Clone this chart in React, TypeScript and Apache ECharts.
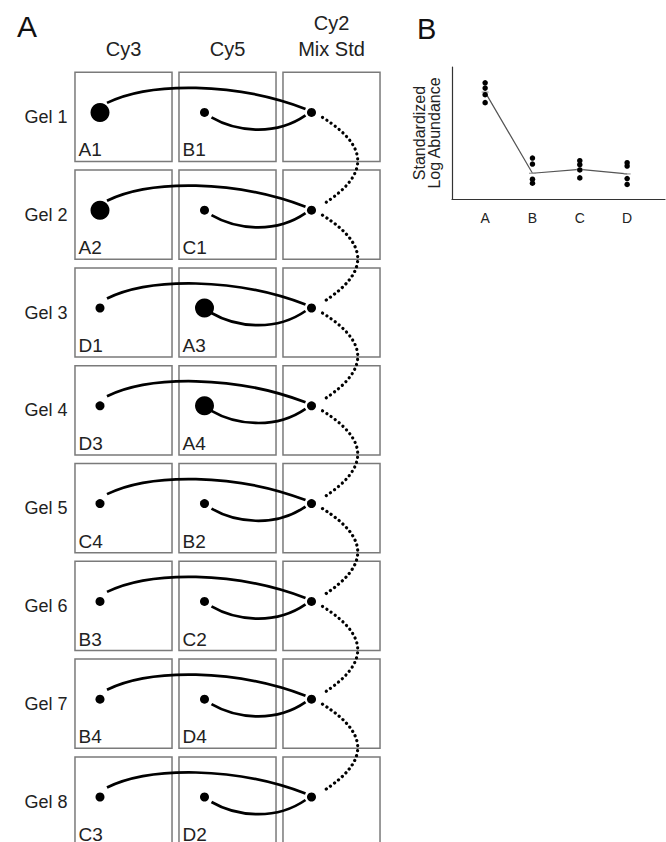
import React, { useEffect, useRef } from "react";
import * as echarts from "echarts";

// ---------- Panel A data ----------
const gels = ["Gel 1", "Gel 2", "Gel 3", "Gel 4", "Gel 5", "Gel 6", "Gel 7", "Gel 8"];
const channels = ["Cy3", "Cy5", "Cy2\nMix Std"];
const cy3Samples = ["A1", "A2", "D1", "D3", "C4", "B3", "B4", "C3"];
const cy5Samples = ["B1", "C1", "A3", "A4", "B2", "C2", "D4", "D2"];
const highGroup = "A";

// ---------- Panel B data ----------
const groups = ["A", "B", "C", "D"];
const abundA = [8.8, 8.4, 7.9, 7.3];
const abundB = [3.1, 2.65, 1.5, 1.2];
const abundC = [2.9, 2.6, 2.2, 1.6];
const abundD = [2.75, 2.5, 1.55, 1.1];
const groupMeans = [8.1, 1.95, 2.25, 1.9];

const FONT = "'Liberation Sans', Arial, Helvetica, sans-serif";

export default function App() {
  const ref = useRef<HTMLDivElement>(null);

  useEffect(() => {
    if (!ref.current) return;
    const chart = echarts.init(ref.current, null, { renderer: "svg" });

    const cells: { col: number; row: number; label: string; big: boolean }[] = [];
    gels.forEach((_, i) => {
      cells.push({ col: 0, row: i, label: cy3Samples[i], big: cy3Samples[i].startsWith(highGroup) });
      cells.push({ col: 1, row: i, label: cy5Samples[i], big: cy5Samples[i].startsWith(highGroup) });
      cells.push({ col: 2, row: i, label: "", big: false });
    });

    const links: { kind: string; c0: number; r0: number; c1: number; r1: number }[] = [];
    gels.forEach((_, i) => {
      links.push({ kind: "upper", c0: 0, r0: i, c1: 2, r1: i });
      links.push({ kind: "lower", c0: 1, r0: i, c1: 2, r1: i });
      if (i < gels.length - 1) links.push({ kind: "chain", c0: 2, r0: i, c1: 2, r1: i + 1 });
    });

    const dotOffsetX = [-23.5, -23, -20];
    const dotOffsetY = -4.5;
    const dotPos = (api: any, col: number, row: number) => {
      const c = api.coord([col, row]);
      return [c[0] + dotOffsetX[col], c[1] + dotOffsetY];
    };

    const replicateSets = [abundA, abundB, abundC, abundD];
    const replicatePoints: number[][] = [];
    replicateSets.forEach((set, gi) => set.forEach((v) => replicatePoints.push([gi + 1, v])));

    // row pitch ~97.8px: grid spans 68..842 (774px) -> 7.914 rows visible from -0.5
    const rowMin = -0.5;
    const rowMax = 7.414;

    const option: any = {
      animation: false,
      backgroundColor: "#fff",
      textStyle: { fontFamily: FONT },
      title: [
        { text: "A", left: 12, top: 6, textStyle: { fontSize: 30, fontWeight: "normal", color: "#111", fontFamily: FONT } },
        { text: "B", left: 412, top: 9, textStyle: { fontSize: 29, fontWeight: "normal", color: "#111", fontFamily: FONT } },
      ],
      grid: [
        { left: 71.5, top: 68, width: 312, bottom: 0 },
        { left: 452, top: 67, width: 213, height: 132 },
      ],
      xAxis: [
        {
          gridIndex: 0,
          type: "category",
          data: channels,
          position: "top",
          axisLine: { show: false },
          axisTick: { show: false },
          splitLine: { show: false },
          axisLabel: { fontSize: 20, lineHeight: 26, color: "#222", margin: 6, fontFamily: FONT, interval: 0 },
        },
        {
          gridIndex: 1,
          type: "value",
          min: 0.3,
          max: 4.8,
          axisLine: { show: true, lineStyle: { color: "#333", width: 1.2 } },
          axisTick: { show: false },
          splitLine: { show: false },
          axisLabel: {
            customValues: [1, 2, 3, 4],
            formatter: (v: number) => groups[Math.round(v) - 1] ?? "",
            fontSize: 14,
            color: "#222",
            margin: 12,
            fontFamily: FONT,
          },
        },
      ],
      yAxis: [
        {
          gridIndex: 0,
          type: "value",
          inverse: true,
          min: rowMin,
          max: rowMax,
          axisLine: { show: false },
          axisTick: { show: false },
          splitLine: { show: false },
          axisLabel: {
            customValues: gels.map((_, i) => i),
            formatter: (v: number) => gels[Math.round(v)] ?? "",
            fontSize: 18,
            color: "#222",
            margin: 4,
            fontFamily: FONT,
          },
        },
        {
          gridIndex: 1,
          type: "value",
          min: 0,
          max: 10,
          axisLine: { show: true, lineStyle: { color: "#333", width: 1.2 } },
          axisTick: { show: false },
          axisLabel: { show: false },
          splitLine: { show: false },
          name: "Standardized\nLog Abundance",
          nameLocation: "middle",
          nameRotate: 90,
          nameGap: 10,
          nameTextStyle: { fontSize: 16, lineHeight: 15, color: "#222", fontFamily: FONT },
        },
      ],
      series: [
        {
          type: "custom",
          xAxisIndex: 0,
          yAxisIndex: 0,
          z: 2,
          clip: false,
          data: cells.map((c) => [c.col, c.row]),
          renderItem: (params: any, api: any) => {
            const cell = cells[params.dataIndex];
            const c = api.coord([cell.col, cell.row]);
            const sz = api.size([1, 1]);
            const w = sz[0] * 0.933;
            const h = sz[1] * 0.912;
            const x0 = c[0] - w / 2;
            const y0 = c[1] - h / 2;
            return {
              type: "group",
              children: [
                {
                  type: "rect",
                  shape: { x: x0, y: y0, width: w, height: h },
                  style: { fill: "none", stroke: "#7a7a7a", lineWidth: 1.5 },
                },
                {
                  type: "text",
                  x: x0 + 3.5,
                  y: y0 + h - 2,
                  style: {
                    text: cell.label,
                    fontSize: 19,
                    fontFamily: FONT,
                    fill: "#222",
                    align: "left",
                    verticalAlign: "bottom",
                  },
                },
              ],
            };
          },
        },
        {
          type: "custom",
          xAxisIndex: 0,
          yAxisIndex: 0,
          z: 3,
          clip: false,
          data: links.map((l) => [l.c0, l.r0, l.c1, l.r1]),
          renderItem: (params: any, api: any) => {
            const l = links[params.dataIndex];
            const p0 = dotPos(api, l.c0, l.r0);
            const p3 = dotPos(api, l.c1, l.r1);
            let shape: any;
            let style: any;
            if (l.kind === "upper") {
              shape = {
                x1: p0[0] + 7, y1: p0[1] - 9.5,
                cpx1: p0[0] + 50, cpy1: p0[1] - 30.5,
                cpx2: p0[0] + 135, cpy2: p0[1] - 30.5,
                x2: p3[0] - 6, y2: p3[1] - 3.5,
              };
              style = { stroke: "#000", lineWidth: 2.7, fill: "none" };
            } else if (l.kind === "lower") {
              shape = {
                x1: p0[0] + 7, y1: p0[1] + 5,
                cpx1: p0[0] + 30, cpy1: p0[1] + 18.5,
                cpx2: p0[0] + 70, cpy2: p0[1] + 24.5,
                x2: p3[0] - 6, y2: p3[1] + 3,
              };
              style = { stroke: "#000", lineWidth: 2.7, fill: "none" };
            } else {
              shape = {
                x1: p0[0] + 11, y1: p0[1] + 5,
                cpx1: p0[0] + 58, cpy1: p0[1] + 34.5,
                cpx2: p3[0] + 58, cpy2: p3[1] - 35.5,
                x2: p3[0] + 11, y2: p3[1] - 5.5,
              };
              style = { stroke: "#000", lineWidth: 3.2, fill: "none", lineDash: [0.1, 5], lineCap: "round" };
            }
            return { type: "bezierCurve", shape, style };
          },
        },
        {
          type: "scatter",
          xAxisIndex: 0,
          yAxisIndex: 0,
          z: 4,
          clip: false,
          data: cells.map((c) => ({
            value: [c.col, c.row],
            symbolSize: c.big ? 19 : 9,
            symbolOffset: [dotOffsetX[c.col], dotOffsetY],
          })),
          symbol: "circle",
          itemStyle: { color: "#000", opacity: 1 },
          emphasis: { disabled: true },
        },
        {
          type: "line",
          xAxisIndex: 1,
          yAxisIndex: 1,
          z: 3,
          data: groupMeans.map((m, i) => [i + 1, m]),
          symbol: "rect",
          symbolSize: [7, 1.2],
          showSymbol: true,
          itemStyle: { color: "#999" },
          lineStyle: { color: "#555", width: 1.2 },
          emphasis: { disabled: true },
        },
        {
          type: "scatter",
          xAxisIndex: 1,
          yAxisIndex: 1,
          z: 4,
          data: replicatePoints,
          symbolSize: 5.5,
          itemStyle: { color: "#000", opacity: 1 },
          emphasis: { disabled: true },
        },
      ],
    };

    chart.setOption(option);
    return () => chart.dispose();
  }, []);

  return (
    <div
      ref={ref}
      style={{ position: "absolute", left: 0, top: 0, width: 666, height: 842, background: "#fff" }}
    />
  );
}
